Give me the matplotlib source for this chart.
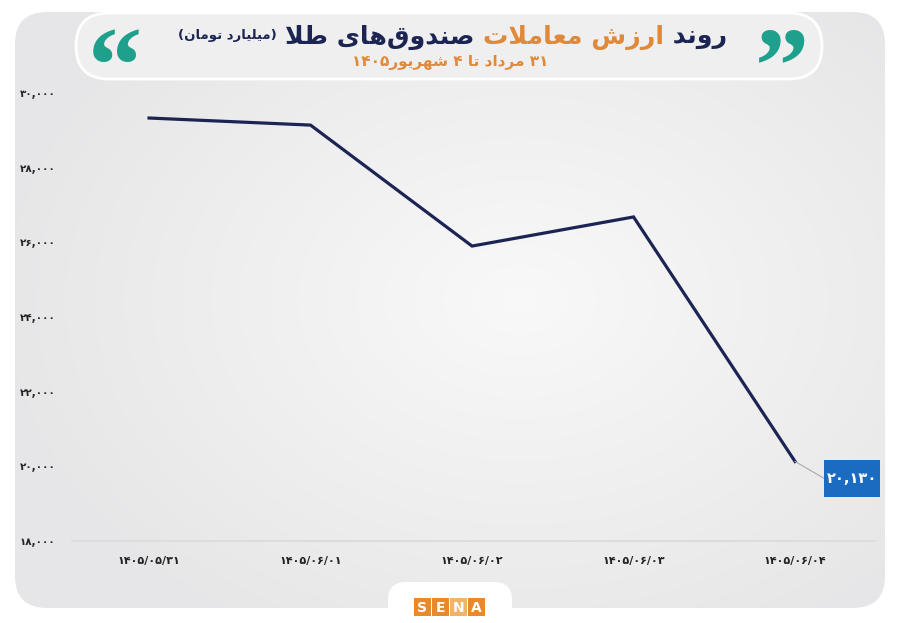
import re
import numpy as np
import matplotlib
matplotlib.use('Agg')
import matplotlib.pyplot as plt
from matplotlib.patches import FancyBboxPatch, Rectangle
from matplotlib.ticker import FuncFormatter
from matplotlib.transforms import Affine2D, ScaledTranslation

# data (billion toman)
dates = ['۱۴۰۵/۰۵/۳۱', '۱۴۰۵/۰۶/۰۱', '۱۴۰۵/۰۶/۰۲', '۱۴۰۵/۰۶/۰۳', '۱۴۰۵/۰۶/۰۴']
values = [29330, 29140, 25900, 26680, 20130]
y_ticks = [18000, 20000, 22000, 24000, 26000, 28000, 30000]

title_parts = [('روند ', 'navy'), ('ارزش معاملات', 'orange'), (' صندوق\u200cهای طلا', 'navy')]
title_unit = '(میلیارد تومان)'
subtitle = '۳۱ مرداد تا ۴ شهریور۱۴۰۵'

NAVY = '#1c2453'
ORANGE = '#e0893a'
TEAL = '#1fa08c'
BLUE = '#1b6cc0'

# minimal arabic shaping: (isolated, final, initial, medial)
FORMS = {
    'ا': ('\uFE8D', '\uFE8E', None, None),
    'ت': ('\uFE95', '\uFE96', '\uFE97', '\uFE98'),
    'د': ('\uFEA9', '\uFEAA', None, None),
    'ر': ('\uFEAD', '\uFEAE', None, None),
    'ز': ('\uFEAF', '\uFEB0', None, None),
    'ش': ('\uFEB5', '\uFEB6', '\uFEB7', '\uFEB8'),
    'ص': ('\uFEB9', '\uFEBA', '\uFEBB', '\uFEBC'),
    'ط': ('\uFEC1', '\uFEC2', '\uFEC3', '\uFEC4'),
    'ع': ('\uFEC9', '\uFECA', '\uFECB', '\uFECC'),
    'ق': ('\uFED5', '\uFED6', '\uFED7', '\uFED8'),
    'ل': ('\uFEDD', '\uFEDE', '\uFEDF', '\uFEE0'),
    'م': ('\uFEE1', '\uFEE2', '\uFEE3', '\uFEE4'),
    'ن': ('\uFEE5', '\uFEE6', '\uFEE7', '\uFEE8'),
    'ه': ('\uFEE9', '\uFEEA', '\uFEEB', '\uFEEC'),
    'و': ('\uFEED', '\uFEEE', None, None),
    'ی': ('\uFBFC', '\uFBFD', '\uFBFE', '\uFBFF'),
}
MIRROR = str.maketrans('()', ')(')


def dual(c):
    return c in FORMS and FORMS[c][2] is not None


def shape(s):
    out = []
    i = 0
    while i < len(s):
        c = s[i]
        if c not in FORMS:
            if c != '\u200c':
                out.append(c)
            i += 1
            continue
        jp = i > 0 and dual(s[i - 1])
        if c == 'ل' and i + 1 < len(s) and s[i + 1] == 'ا':
            out.append('\uFEFC' if jp else '\uFEFB')
            i += 2
            continue
        jn = dual(c) and i + 1 < len(s) and s[i + 1] in FORMS
        iso, fin, ini, med = FORMS[c]
        out.append(med if jp and jn else fin if jp else ini if jn else iso)
        i += 1
    return ''.join(out)


def rtl(s):
    s = shape(s)
    runs = re.findall(r'[0-9۰-۹,/]+|[^0-9۰-۹,/]+', s)
    vis = []
    for r in reversed(runs):
        if re.match(r'[0-9۰-۹]', r):
            vis.append(r)
        else:
            vis.append(r[::-1].translate(MIRROR))
    return ''.join(vis)


def fa_num(v, pos=None):
    return f'{int(v):,}'.translate(str.maketrans('0123456789', '۰۱۲۳۴۵۶۷۸۹'))


fig = plt.figure(figsize=(9, 6.23), dpi=100)
fig.patch.set_facecolor('white')

# background decoration in pixel coords
bg = fig.add_axes([0, 0, 1, 1], zorder=-1)
bg.set_xlim(0, 900)
bg.set_ylim(623, 0)
bg.axis('off')

card = FancyBboxPatch((15, 12), 870, 596, boxstyle='round,pad=0,rounding_size=32',
                      facecolor='none', edgecolor='none')
bg.add_patch(card)
gx, gy = np.meshgrid(np.linspace(0, 900, 300), np.linspace(0, 623, 200))
r = np.sqrt(((gx - 520) / 520) ** 2 + ((gy - 300) / 380) ** 2)
shade = np.clip(1 - r, 0, 1)
c0 = np.array([0.905, 0.905, 0.91])
c1 = np.array([0.975, 0.975, 0.975])
img = c0 + (c1 - c0) * shade[..., None]
im = bg.imshow(img, extent=(0, 900, 623, 0), aspect='auto', zorder=0)
im.set_clip_path(card)

pill = FancyBboxPatch((76, 13), 746, 66, boxstyle='round,pad=0,rounding_size=33',
                      facecolor='#efefef', edgecolor='white', lw=2, zorder=1)
bg.add_patch(pill)

bg.text(115, 64, '\u201c', color=TEAL, fontsize=78, fontweight='bold',
        ha='center', va='center_baseline', zorder=2, family='Liberation Serif')
bg.text(782, 64, '\u201d', color=TEAL, fontsize=78, fontweight='bold',
        ha='center', va='center_baseline', zorder=2, family='Liberation Serif')

# SENA logo notch
notch = FancyBboxPatch((388, 582), 124, 60, boxstyle='round,pad=0,rounding_size=18',
                       facecolor='white', edgecolor='none', zorder=1)
bg.add_patch(notch)
for k, ch in enumerate('SENA'):
    fc = '#f0b36b' if ch == 'N' else '#e8892c'
    bg.add_patch(Rectangle((414 + k * 18, 598), 17, 18, facecolor=fc, edgecolor='none', zorder=2))
    bg.text(422.5 + k * 18, 607.5, ch, color='white', fontsize=10, fontweight='bold',
            ha='center', va='center', zorder=3)

# title pieces, laid out right to left
fig.canvas.draw()
renderer = fig.canvas.get_renderer()
x_right = 727
for txt, col in title_parts:
    t = bg.text(x_right, 37, rtl(txt), color=NAVY if col == 'navy' else ORANGE,
                fontsize=18.2, fontweight='bold', ha='right', va='center', zorder=3)
    bb = t.get_window_extent(renderer)
    x_right -= bb.width
bg.text(x_right - 8, 35, rtl(title_unit), color=NAVY, fontsize=9.5, fontweight='bold',
        ha='right', va='center', zorder=3)
bg.text(450, 62, rtl(subtitle), color=ORANGE, fontsize=11, fontweight='bold',
        ha='center', va='center', zorder=3)

# chart
ax = fig.add_axes([72 / 900, (623 - 541) / 623, 803 / 900, 448 / 623])
ax.set_facecolor('none')
x = np.arange(len(values))
ax.plot(x, values, color=NAVY, lw=2.3, solid_joinstyle='miter', zorder=3)
ax.set_xlim(-0.477, 4.495)
ax.set_ylim(18000, 30000)
ax.set_yticks(y_ticks)
ax.yaxis.set_major_formatter(FuncFormatter(fa_num))
ax.set_xticks(x)
ax.set_xticklabels(dates)
for s in ['top', 'right', 'left']:
    ax.spines[s].set_visible(False)
ax.spines['bottom'].set_color('#dadada')
ax.spines['bottom'].set_linewidth(1.2)
ax.tick_params(axis='y', length=0, pad=12, labelsize=7.5, labelcolor='#222222')
ax.tick_params(axis='x', length=0, pad=11, labelsize=8, labelcolor='#222222')
for lab in ax.get_xticklabels() + ax.get_yticklabels():
    lab.set_fontweight('bold')

# value label for the last point: pixel-offset box anchored at the data point
anchor = ScaledTranslation(x[-1], values[-1], ax.transData)
box = Rectangle((29, -36), 56, 37, facecolor=BLUE, edgecolor='none', zorder=5,
                transform=Affine2D() + anchor, clip_on=False)
ax.add_patch(box)
ax.plot([0, 31], [0, -18], color='#aaaaaa', lw=0.8, zorder=4,
        transform=Affine2D() + anchor, clip_on=False)
ax.text(57, -17, fa_num(values[-1]), color='white', fontsize=10.5, fontweight='bold',
        ha='center', va='center', zorder=6, transform=Affine2D() + anchor)

fig.savefig('out.png', dpi=100)
